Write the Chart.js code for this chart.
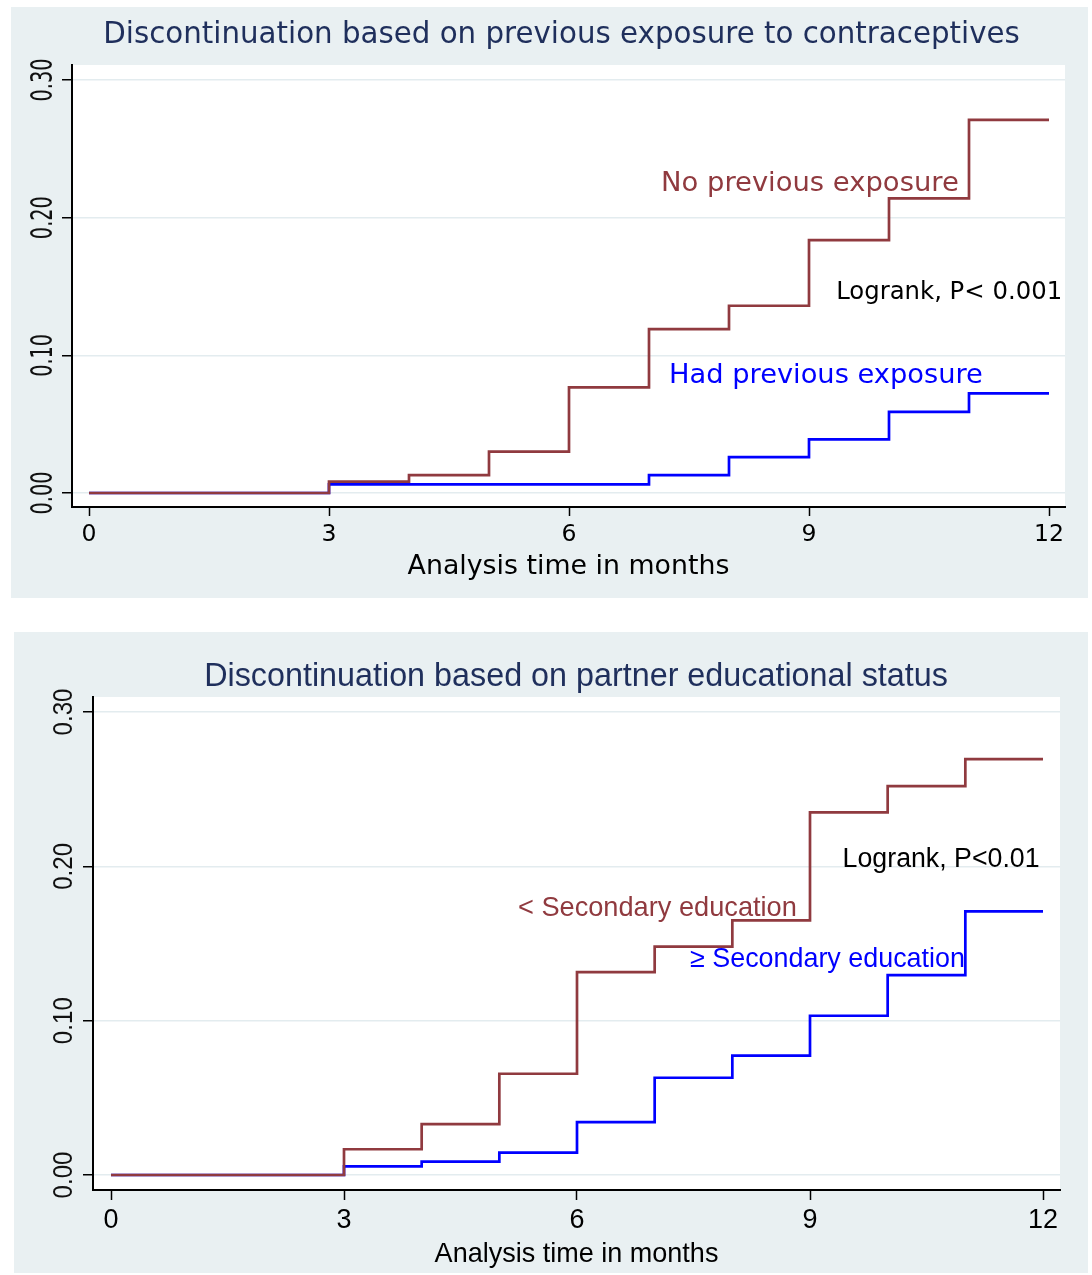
<!DOCTYPE html>
<html>
<head>
<meta charset="utf-8">
<title>Discontinuation curves</title>
<script src="https://cdn.jsdelivr.net/npm/chart.js@4.4.1/dist/chart.umd.min.js"></script>
<style>
  html, body { margin: 0; padding: 0; background: #fff; }
  body { width: 1092px; height: 1275px; position: relative; overflow: hidden; }
  .panel { position: absolute; background: #e9f0f2; }
  .panel canvas { display: block; }
</style>
</head>
<body>
<div class="panel" id="p1"><canvas id="c1"></canvas></div>
<div class="panel" id="p2"><canvas id="c2"></canvas></div>
<script>
// ---- data ----
const months = [0, 3, 4, 5, 6, 7, 8, 9, 10, 11, 12];
const xTicks = [0, 3, 6, 9, 12];
const xTickLabels = ['0', '3', '6', '9', '12'];
const yTicks = [0, 0.1, 0.2, 0.3];
const yTickLabels = ['0.00', '0.10', '0.20', '0.30'];

// top: previous exposure to contraceptives
const noExposure  = [0, 0.0082, 0.013, 0.030, 0.0767, 0.119, 0.136, 0.1837, 0.214, 0.271, 0.271];
const hadExposure = [0, 0.0063, 0.0063, 0.0063, 0.0063, 0.013, 0.026, 0.039, 0.059, 0.0724, 0.0724];

// bottom: partner educational status
const belowSecondary = [0, 0.0167, 0.0329, 0.0656, 0.1314, 0.148, 0.165, 0.2349, 0.252, 0.2695, 0.2695];
const secondaryPlus  = [0, 0.0056, 0.0087, 0.0145, 0.0342, 0.063, 0.0773, 0.1032, 0.1295, 0.1708, 0.1708];

const RED = '#903a3f';
const BLUE = '#0000ff';
const NAVY = '#1f2f5c';
const GRID = '#e3ecef';

// ---- layout of the two panels (page pixels) ----
const panels = [
  {
    box: 'p1', canvas: 'c1', family: '"DejaVu Sans", sans-serif',
    frame: { left: 11, top: 7, width: 1077, height: 591 },
    plot: { left: 72, top: 65, right: 1065, bottom: 507 },
    xCal: [89, 1049], yCal: [493, 80],          // px of 0 / 12 months, px of 0.00 / 0.30
    title: { text: 'Discontinuation based on previous exposure to contraceptives', cx: 561.5, cy: 35, w: 917 },
    xTitle: { text: 'Analysis time in months', cy: 567, w: 322 },
    xTick: { cy: 534.5, w12: 30, len: 9 },
    yTick: { cx: 41, len: 43, thick: 22, tickLen: 10 },
    series: [
      { label: 'No previous exposure', data: noExposure, color: RED },
      { label: 'Had previous exposure', data: hadExposure, color: BLUE },
    ],
    notes: [
      { text: 'No previous exposure', color: RED, x: 7.15, y: 0.2245, w: 298 },
      { text: 'Logrank, P< 0.001', color: '#000', x: 9.34, y: 0.1455, w: 226 },
      { text: 'Had previous exposure', color: BLUE, x: 7.25, y: 0.085, w: 314 },
    ],
  },
  {
    box: 'p2', canvas: 'c2', family: '"Liberation Sans", Arial, sans-serif',
    frame: { left: 14, top: 632, width: 1074, height: 641 },
    plot: { left: 93, top: 697, right: 1060, bottom: 1190 },
    xCal: [111, 1043], yCal: [1175, 712],
    title: { text: 'Discontinuation based on partner educational status', cx: 576, cy: 677.5, w: 744 },
    xTitle: { text: 'Analysis time in months', cy: 1255, w: 284 },
    xTick: { cy: 1221, w12: 30, len: 10 },
    yTick: { cx: 62.5, len: 47, thick: 19, tickLen: 10 },
    series: [
      { label: '< Secondary education', data: belowSecondary, color: RED },
      { label: '\u2265 Secondary education', data: secondaryPlus, color: BLUE },
    ],
    notes: [
      { text: '< Secondary education', color: RED, x: 5.24, y: 0.1727, w: 279 },
      { text: 'Logrank, P<0.01', color: '#000', x: 9.42, y: 0.2044, w: 197 },
      { text: '\u2265 Secondary education', color: BLUE, x: 7.455, y: 0.1396, w: 275 },
    ],
  },
];

const meas = document.createElement('canvas').getContext('2d');
function fitSize(text, family, width) {
  meas.font = `100px ${family}`;
  return 100 * width / meas.measureText(text).width;
}

const plotBg = {
  id: 'plotBg',
  beforeDraw(chart) {
    const { ctx, chartArea: a } = chart;
    ctx.save();
    ctx.fillStyle = '#fff';
    ctx.fillRect(a.left, a.top, a.right - a.left, a.bottom - a.top);
    ctx.restore();
  },
};

function panelText(p) {
  const fx = p.frame.left, fy = p.frame.top;
  return {
    id: 'panelText',
    beforeDatasetsDraw(chart) {
      const { ctx, scales: { x, y } } = chart;
      ctx.save();
      ctx.textAlign = 'left';
      ctx.textBaseline = 'middle';
      p.notes.forEach((n) => {
        ctx.font = `${fitSize(n.text, p.family, n.w)}px ${p.family}`;
        ctx.fillStyle = n.color;
        ctx.fillText(n.text, x.getPixelForValue(n.x), y.getPixelForValue(n.y));
      });
      ctx.restore();
    },
    afterDraw(chart) {
      const { ctx, scales: { y } } = chart;
      ctx.save();
      // title
      ctx.font = `${fitSize(p.title.text, p.family, p.title.w)}px ${p.family}`;
      ctx.fillStyle = NAVY;
      ctx.textAlign = 'center';
      ctx.textBaseline = 'middle';
      ctx.fillText(p.title.text, p.title.cx - fx, p.title.cy - fy);

      // rotated y tick labels
      const size = fitSize('0.30', p.family, p.yTick.len);
      ctx.font = `${size}px ${p.family}`;
      const m = ctx.measureText('0');
      const digitH = m.actualBoundingBoxAscent + m.actualBoundingBoxDescent;
      const k = p.yTick.thick / digitH;
      ctx.fillStyle = '#111';
      ctx.textBaseline = 'alphabetic';
      yTicks.forEach((v, i) => {
        ctx.save();
        ctx.translate(p.yTick.cx - fx, y.getPixelForValue(v));
        ctx.rotate(-Math.PI / 2);
        ctx.scale(1, k);
        ctx.fillText(yTickLabels[i], 0, digitH / 2);
        ctx.restore();
      });
      ctx.restore();
    },
  };
}

function build(p) {
  const box = document.getElementById(p.box);
  Object.assign(box.style, {
    left: p.frame.left + 'px', top: p.frame.top + 'px',
    width: p.frame.width + 'px', height: p.frame.height + 'px',
  });
  const cv = document.getElementById(p.canvas);
  cv.width = p.frame.width;
  cv.height = p.frame.height;

  // axis ranges so that the ticks land where they sit in the reference
  const pxMonth = (p.xCal[1] - p.xCal[0]) / 12;
  const pxUnit = (p.yCal[0] - p.yCal[1]) / 0.3;
  const xMin = (p.plot.left - p.xCal[0]) / pxMonth;
  const xMax = 12 + (p.plot.right - p.xCal[1]) / pxMonth;
  const yMin = -(p.plot.bottom - p.yCal[0]) / pxUnit;
  const yMax = 0.3 + (p.yCal[1] - p.plot.top) / pxUnit;

  const tickSize = fitSize('12', p.family, p.xTick.w12);
  const titleSize = fitSize(p.xTitle.text, p.family, p.xTitle.w);
  const frameBottom = p.frame.top + p.frame.height;

  return new Chart(cv, {
    type: 'line',
    data: {
      datasets: p.series.map((s) => ({
        label: s.label,
        data: months.map((m, i) => ({ x: m, y: s.data[i] })),
        borderColor: s.color,
        borderWidth: 2.7,
        pointRadius: 0,
        stepped: true,
        fill: false,
        tension: 0,
      })),
    },
    options: {
      responsive: false,
      animation: false,
      devicePixelRatio: 1,
      layout: {
        padding: {
          left: 0, bottom: 0,
          top: p.plot.top - p.frame.top,
          right: p.frame.left + p.frame.width - p.plot.right,
        },
      },
      plugins: { legend: { display: false }, tooltip: { enabled: false }, title: { display: false } },
      scales: {
        x: {
          type: 'linear', min: xMin, max: xMax,
          afterBuildTicks: (s) => { s.ticks = xTicks.map((v) => ({ value: v })); },
          afterFit: (s) => { s.height = frameBottom - p.plot.bottom; },
          grid: { drawOnChartArea: false, tickLength: p.xTick.len, tickColor: '#000', tickWidth: 1.5 },
          border: { color: '#000', width: 2 },
          ticks: {
            color: '#000', autoSkip: false, maxRotation: 0,
            font: { family: p.family, size: tickSize, lineHeight: 1.2 },
            padding: p.xTick.cy - p.plot.bottom - p.xTick.len - tickSize * 0.6,
            callback: (v) => xTickLabels[xTicks.indexOf(v)],
          },
          title: {
            display: true, text: p.xTitle.text, color: '#000',
            font: { family: p.family, size: titleSize, lineHeight: 1.2 },
            padding: { top: 0, bottom: frameBottom - p.xTitle.cy - titleSize * 0.6 },
          },
        },
        y: {
          type: 'linear', min: yMin, max: yMax,
          afterBuildTicks: (s) => { s.ticks = yTicks.map((v) => ({ value: v })); },
          afterFit: (s) => { s.width = p.plot.left - p.frame.left; },
          grid: { color: GRID, lineWidth: 1.5, tickLength: p.yTick.tickLen, tickColor: '#000', tickWidth: 1.5 },
          border: { color: '#000', width: 2 },
          ticks: { display: false },
        },
      },
    },
    plugins: [plotBg, panelText(p)],
  });
}

panels.forEach(build);
</script>
</body>
</html>
